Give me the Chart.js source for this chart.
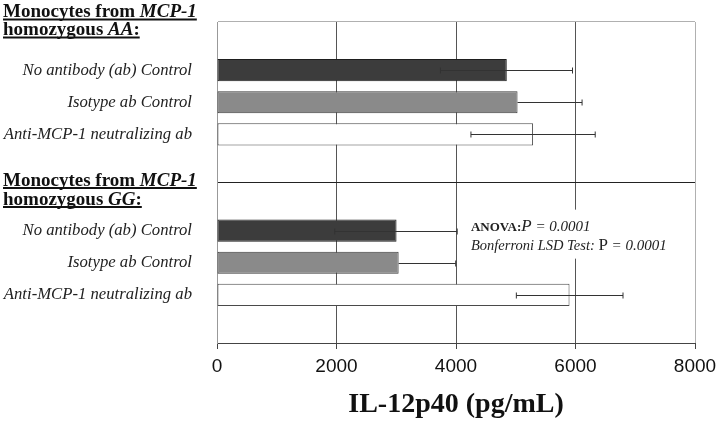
<!DOCTYPE html>
<html>
<head>
<meta charset="utf-8">
<script src="https://cdn.jsdelivr.net/npm/chart.js"></script>
<style>
  html, body { margin: 0; padding: 0; background: #fff; }
  #wrap { width: 720px; height: 426px; }
</style>
</head>
<body>
<div id="wrap"><canvas id="chart" width="720" height="426"></canvas></div>
<script>
// categories (empty slots are spacer rows between the two genotype groups)
const labels = [
  "",
  "No antibody (ab) Control",
  "Isotype ab Control",
  "Anti-MCP-1 neutralizing ab",
  "",
  "",
  "No antibody (ab) Control",
  "Isotype ab Control",
  "Anti-MCP-1 neutralizing ab",
  ""
];

// IL-12p40 means (pg/mL) and error bar extents
const values   = [null, 4850, 5030, 5290, null, null, 3005, 3040, 5900, null];
const errMinus = [null, 1110, 0,    1040, null, null, 1035, 0,    890,  null];
const errPlus  = [null, 1100, 1080, 1040, null, null, 1015, 955,  895,  null];

const xTicks = [0, 2000, 4000, 6000, 8000];

// bar colours per row kind: no antibody / isotype / anti-MCP-1
const fillFor   = ["#fff", "#3c3c3c", "#8a8a8a", "#ffffff", "#fff", "#fff", "#3c3c3c", "#8a8a8a", "#ffffff", "#fff"];
const strokeFor = ["#fff", "#1e1e1e", "#3a3a3a", "#4a4a4a", "#fff", "#fff", "#1e1e1e", "#3a3a3a", "#4a4a4a", "#fff"];

const SERIF = "'Liberation Serif', 'Times New Roman', serif";
const SANS = "'Liberation Sans', Arial, sans-serif";

// draw a run of text pieces with mixed bold/italic, optionally underlined
function drawRuns(ctx, runs, x, y, size, underline) {
  let cx = x;
  for (const r of runs) {
    ctx.font = `${r.italic ? "italic " : ""}${r.bold ? "bold " : ""}${r.size || size}px ${SERIF}`;
    ctx.fillText(r.text, cx, y);
    cx += ctx.measureText(r.text).width;
  }
  if (underline) {
    ctx.beginPath();
    ctx.lineWidth = 1.8;
    ctx.moveTo(x, y + 2.5);
    ctx.lineTo(cx, y + 2.5);
    ctx.stroke();
  }
  return cx;
}

const errorBars = {
  id: "errorBars",
  afterDatasetsDraw(chart) {
    const { ctx, scales: { x, y } } = chart;
    ctx.save();
    ctx.strokeStyle = "#333";
    ctx.lineWidth = 1;
    values.forEach((v, i) => {
      if (v == null) return;
      const yc = Math.round(y.getPixelForValue(i)) + 0.5;
      const x0 = x.getPixelForValue(v - errMinus[i]);
      const x1 = x.getPixelForValue(v + errPlus[i]);
      ctx.beginPath();
      ctx.moveTo(x0, yc);
      ctx.lineTo(x1, yc);
      ctx.stroke();
      [x0, x1].forEach((px, k) => {
        if (k === 0 && errMinus[i] === 0) return;
        ctx.beginPath();
        ctx.moveTo(px, yc - 3);
        ctx.lineTo(px, yc + 3);
        ctx.stroke();
      });
    });
    ctx.restore();
  }
};

const annotations = {
  id: "annotations",
  afterDraw(chart) {
    const { ctx, scales: { x, y } } = chart;
    ctx.save();
    ctx.fillStyle = "#111";
    ctx.strokeStyle = "#111";
    ctx.textBaseline = "alphabetic";

    // group headers
    const aaTop = chart.chartArea.top;
    drawRuns(ctx, [{ text: "Monocytes from ", bold: true }, { text: "MCP-1", bold: true, italic: true }], 3, aaTop - 5, 19, true);
    drawRuns(ctx, [{ text: "homozygous ", bold: true }, { text: "AA", bold: true, italic: true }, { text: ":", bold: true }], 3, aaTop + 13, 19, true);

    const sep = (y.getPixelForValue(4) + y.getPixelForValue(5)) / 2;
    drawRuns(ctx, [{ text: "Monocytes from ", bold: true }, { text: "MCP-1", bold: true, italic: true }], 3, sep + 3, 19, true);
    drawRuns(ctx, [{ text: "homozygous ", bold: true }, { text: "GG", bold: true, italic: true }, { text: ":", bold: true }], 3, sep + 22, 19, true);

    // statistics box
    const bx = x.getPixelForValue(4150);
    const by = y.getPixelForValue(6);
    ctx.fillStyle = "#fff";
    ctx.fillRect(bx, by - 21, 205, 49);
    ctx.fillStyle = "#222";
    drawRuns(ctx, [{ text: "ANOVA:", bold: true, size: 13 }, { text: "P", italic: true, size: 17 }, { text: " = 0.0001", italic: true, size: 15 }], bx + 6, by, 14, false);
    drawRuns(ctx, [{ text: "Bonferroni LSD Test: ", italic: true, size: 14.5 }, { text: "P", size: 17 }, { text: " = 0.0001", italic: true, size: 15 }], bx + 6, by + 19, 14, false);
    ctx.restore();
  }
};

new Chart(document.getElementById("chart"), {
  type: "bar",
  data: {
    labels,
    datasets: [{
      data: values,
      backgroundColor: fillFor,
      borderColor: strokeFor,
      borderWidth: 1,
      borderSkipped: false,
      barPercentage: 0.69,
      categoryPercentage: 1
    }]
  },
  options: {
    indexAxis: "y",
    responsive: false,
    animation: false,
    layout: { padding: { top: 22, right: 25, left: 0, bottom: 0 } },
    plugins: { legend: { display: false }, tooltip: { enabled: false } },
    scales: {
      x: {
        min: 0,
        max: 8000,
        afterBuildTicks: (s) => { s.ticks = xTicks.map(v => ({ value: v })); },
        afterFit: (s) => { s.height = 83; s.paddingLeft = 0; s.paddingRight = 0; },
        border: { display: true, color: "#444", width: 1 },
        grid: {
          color: (c) => c.tick && c.tick.value === 8000 ? "#b0b0b0" : (c.tick && c.tick.value === 0 ? "#999" : "#555"),
          lineWidth: 1,
          drawTicks: true,
          tickLength: 6,
          tickColor: "#444"
        },
        ticks: {
          color: "#111",
          padding: 6,
          font: { family: SANS, size: 19 },
          callback: (v) => String(v)
        },
        title: {
          display: true,
          text: "IL-12p40 (pg/mL)",
          color: "#111",
          font: { family: SERIF, size: 28, weight: "bold" },
          padding: { top: 0, bottom: 4 }
        }
      },
      y: {
        offset: true,
        afterFit: (s) => { s.width = 217; s.paddingTop = 0; s.paddingBottom = 0; },
        border: { display: true, color: "#999", width: 1 },
        grid: {
          offset: true,
          drawTicks: false,
          color: (c) => c.index === 0 ? "#b0b0b0" : (c.index === 5 ? "#222" : "rgba(0,0,0,0)"),
          lineWidth: 1
        },
        ticks: {
          color: "#222",
          padding: 25,
          font: { family: SERIF, size: 16.7, style: "italic" }
        }
      }
    }
  },
  plugins: [errorBars, annotations]
});
</script>
</body>
</html>
